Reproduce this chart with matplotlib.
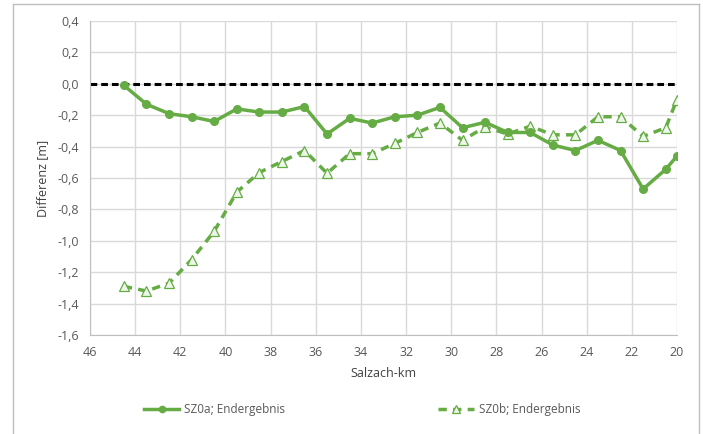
import matplotlib
matplotlib.use("Agg")
import matplotlib.pyplot as plt
from matplotlib.lines import Line2D
from matplotlib.ticker import FuncFormatter

km = [44.5, 43.5, 42.5, 41.5, 40.5, 39.5, 38.5, 37.5, 36.5, 35.5, 34.5, 33.5, 32.5,
      31.5, 30.5, 29.5, 28.5, 27.5, 26.5, 25.5, 24.5, 23.5, 22.5, 21.5, 20.5, 20.0]
sz0a = [-0.01, -0.13, -0.19, -0.21, -0.24, -0.16, -0.18, -0.18, -0.145, -0.32, -0.22,
        -0.25, -0.21, -0.20, -0.15, -0.28, -0.245, -0.31, -0.31, -0.39, -0.425, -0.36,
        -0.425, -0.67, -0.545, -0.46]
sz0b = [-1.29, -1.32, -1.27, -1.12, -0.94, -0.69, -0.565, -0.495, -0.425, -0.57, -0.445,
        -0.445, -0.38, -0.31, -0.25, -0.36, -0.275, -0.32, -0.27, -0.325, -0.325, -0.21,
        -0.21, -0.335, -0.28, -0.10]
labels = ["SZ0a; Endergebnis", "SZ0b; Endergebnis"]
xticks = list(range(46, 19, -2))
yticks = [0.4, 0.2, 0.0, -0.2, -0.4, -0.6, -0.8, -1.0, -1.2, -1.4, -1.6]

green = "#66AC44"
grid = "#D9D9D9"
txt = "#595959"
plt.rcParams["font.family"] = ["Open Sans", "DejaVu Sans"]

W, H = 703, 434
fig = plt.figure(figsize=(W / 100, H / 100), dpi=100)
ax = fig.add_axes([90 / W, 1 - 335 / H, (677 - 90) / W, (335 - 21) / H])

ax.set_xlim(46, 20)
ax.set_ylim(-1.6, 0.4)
ax.set_xticks(xticks)
ax.set_yticks(yticks)
ax.grid(True, color=grid, lw=1)
ax.set_axisbelow(True)
for s in ["top", "right"]:
    ax.spines[s].set_visible(False)
for s in ["left", "bottom"]:
    ax.spines[s].set_color("#BFBFBF")
ax.tick_params(length=0, colors=txt, labelsize=9, pad=8)
ax.yaxis.set_major_formatter(FuncFormatter(lambda v, p: f"{v:.1f}".replace(".", ",").replace("-0,0", "0,0")))

ax.axhline(0.0, color="black", lw=2.2, ls=(0, (2.2, 1.3)), zorder=2)
ax.plot(km, sz0b, color=green, lw=2.5, ls=(0, (2.4, 1.8)), marker="^", ms=7,
        mfc="#EEF6EA", mec=green, mew=0.9, zorder=3)
ax.plot(km, sz0a, color=green, lw=2.5, marker="o", ms=5.5, mfc=green, mec=green, zorder=4)

ax.set_ylabel("Differenz [m]", color="#404040", fontsize=9, labelpad=6)
ax.set_xlabel("Salzach-km", color="#404040", fontsize=9, labelpad=6)

h1 = Line2D([], [], color=green, lw=2.5, marker="o", ms=4.5)
h2 = Line2D([], [], color=green, lw=2.5, ls=(0, (2.4, 1.8)), marker="^", ms=5.5, mfc="#EEF6EA", mew=0.9)
leg = fig.legend([h1, h2], labels, loc="center", bbox_to_anchor=(362 / W, 1 - 410 / H),
                 ncol=2, frameon=False, fontsize=8.5, columnspacing=13, handlelength=3.0,
                 handletextpad=0.4, labelcolor=txt)

# outer chart border
bc = "#BFBFBF"
fig.add_artist(Line2D([13 / W, 13 / W], [0, 1 - 4 / H], color=bc, lw=1, transform=fig.transFigure))
fig.add_artist(Line2D([13 / W, 699 / W], [1 - 4 / H, 1 - 4 / H], color=bc, lw=1, transform=fig.transFigure))
fig.add_artist(Line2D([699 / W, 699 / W], [0, 1 - 4 / H], color=bc, lw=1, transform=fig.transFigure))

fig.savefig("out.png", dpi=100)
